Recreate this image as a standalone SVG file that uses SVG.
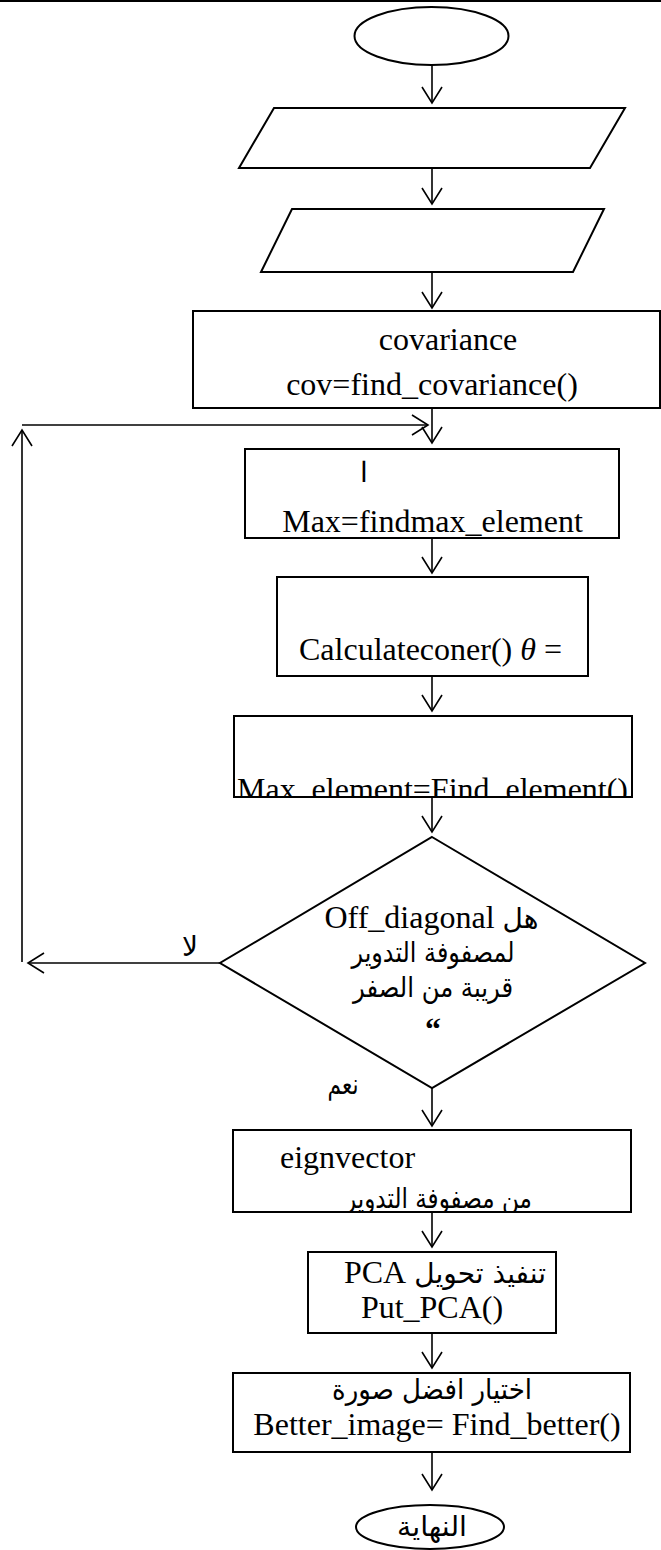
<svg xmlns="http://www.w3.org/2000/svg" width="661" height="1550" viewBox="0 0 661 1550">
<style>
.shape{fill:#fff;stroke:#000;stroke-width:2}
.conn{fill:none;stroke:#000;stroke-width:1.6}
.lat{font-family:"Liberation Serif","Times New Roman",serif;font-size:32px;fill:#000}
.ar{font-family:"DejaVu Sans","Noto Sans",sans-serif;font-size:28px;fill:#000}
</style>
<defs>
<marker id="arr" markerUnits="userSpaceOnUse" viewBox="-18 -12 20 24" markerWidth="20" markerHeight="24" refX="0" refY="0" orient="auto">
<path d="M-16,-10 L0,0 L-16,10" fill="none" stroke="#000" stroke-width="1.6"/>
</marker>
<clipPath id="clip4"><rect x="230" y="700" width="410" height="96"/></clipPath>
<clipPath id="clipEig"><rect x="230" y="1120" width="410" height="91"/></clipPath>
</defs>
<line x1="0" y1="1" x2="661" y2="1" stroke="#000" stroke-width="2"/>
<g id="connectors">
<line class="conn" x1="432" y1="65" x2="432" y2="103" marker-end="url(#arr)"/>
<line class="conn" x1="432" y1="168" x2="432" y2="204" marker-end="url(#arr)"/>
<line class="conn" x1="432" y1="272" x2="432" y2="308" marker-end="url(#arr)"/>
<line class="conn" x1="432" y1="408" x2="432" y2="443" marker-end="url(#arr)"/>
<line class="conn" x1="432" y1="538" x2="432" y2="573" marker-end="url(#arr)"/>
<line class="conn" x1="432" y1="676" x2="432" y2="711" marker-end="url(#arr)"/>
<line class="conn" x1="432" y1="797" x2="432" y2="832" marker-end="url(#arr)"/>
<line class="conn" x1="432" y1="1088" x2="432" y2="1126" marker-end="url(#arr)"/>
<line class="conn" x1="432" y1="1212" x2="432" y2="1247" marker-end="url(#arr)"/>
<line class="conn" x1="432" y1="1333" x2="432" y2="1368" marker-end="url(#arr)"/>
<line class="conn" x1="432" y1="1452" x2="432" y2="1490" marker-end="url(#arr)"/>
<line class="conn" x1="220" y1="963" x2="28" y2="963" marker-end="url(#arr)"/>
<line class="conn" x1="22" y1="962" x2="22" y2="430" marker-end="url(#arr)"/>
<line class="conn" x1="22" y1="425" x2="428" y2="425" marker-end="url(#arr)"/>
<text class="ar" x="190" y="956" text-anchor="middle" font-size="24" textLength="16" lengthAdjust="spacingAndGlyphs">لا</text>
<text class="ar" x="343" y="1094" text-anchor="middle" font-size="30" textLength="31" lengthAdjust="spacingAndGlyphs">نعم</text>
</g>
<g id="start">
<ellipse class="shape" cx="431.5" cy="36" rx="77" ry="29"/>
</g>
<g id="input1">
<polygon class="shape" points="274,108 625,108 590,168 239,168"/>
</g>
<g id="input2">
<polygon class="shape" points="292,209 604,209 573,272 261,272"/>
</g>
<g id="covariance">
<rect class="shape" x="193" y="311" width="467" height="97"/>
<text class="lat" x="448" y="350" text-anchor="middle">covariance</text>
<text class="lat" x="432" y="395" text-anchor="middle">cov=find_covariance()</text>
</g>
<g id="findmax">
<rect class="shape" x="245" y="449" width="374" height="89"/>
<text class="ar" x="364" y="482" text-anchor="middle" font-size="18" font-weight="300">ا</text>
<text class="lat" x="432.5" y="532" text-anchor="middle">Max=findmax_element</text>
</g>
<g id="angle">
<rect class="shape" x="277" y="577" width="311" height="99"/>
<text class="lat" x="299" y="660">Calculateconer() <tspan font-style="italic">θ</tspan> =</text>
</g>
<g id="findelement">
<rect class="shape" x="234" y="716" width="398" height="81"/>
<text class="lat" x="237" y="800" clip-path="url(#clip4)" textLength="391" lengthAdjust="spacingAndGlyphs">Max_element=Find_element()</text>
</g>
<g id="decision">
<polygon class="shape" points="432,837 645,963 432,1088 220,963"/>
<text class="lat" x="431.5" y="928" text-anchor="middle" font-size="29" direction="rtl"><tspan class="ar" font-size="28">هل</tspan> Off_diagonal</text>
<text class="ar" x="433" y="962" text-anchor="middle" textLength="163" lengthAdjust="spacingAndGlyphs">لمصفوفة التدوير</text>
<text class="ar" x="433" y="997" text-anchor="middle" textLength="160" lengthAdjust="spacingAndGlyphs">قريبة من الصفر</text>
<text class="lat" x="433" y="1040" text-anchor="middle" font-weight="bold">“</text>
</g>
<g id="eigenvector">
<rect class="shape" x="233" y="1130" width="398" height="82"/>
<text class="lat" x="280" y="1168">eignvector</text>
<text class="ar" x="438.5" y="1208" text-anchor="middle" clip-path="url(#clipEig)" textLength="187" lengthAdjust="spacingAndGlyphs">من مصفوفة التدوير</text>
</g>
<g id="pca">
<rect class="shape" x="308" y="1252" width="248" height="81"/>
<text class="lat" x="445" y="1283" text-anchor="middle" direction="rtl"><tspan class="ar" font-size="26">تنفيذ تحويل</tspan> PCA</text>
<text class="lat" x="432" y="1318" text-anchor="middle">Put_PCA()</text>
</g>
<g id="better">
<rect class="shape" x="233" y="1373" width="397" height="79"/>
<text class="ar" x="432" y="1399" text-anchor="middle" textLength="200" lengthAdjust="spacingAndGlyphs">اختيار افضل صورة</text>
<text class="lat" x="437" y="1435" text-anchor="middle">Better_image= Find_better()</text>
</g>
<g id="end">
<ellipse class="shape" cx="430" cy="1527" rx="74" ry="22"/>
<text class="ar" x="432" y="1536" text-anchor="middle" font-size="30" textLength="70" lengthAdjust="spacingAndGlyphs">النهاية</text>
</g>
</svg>
